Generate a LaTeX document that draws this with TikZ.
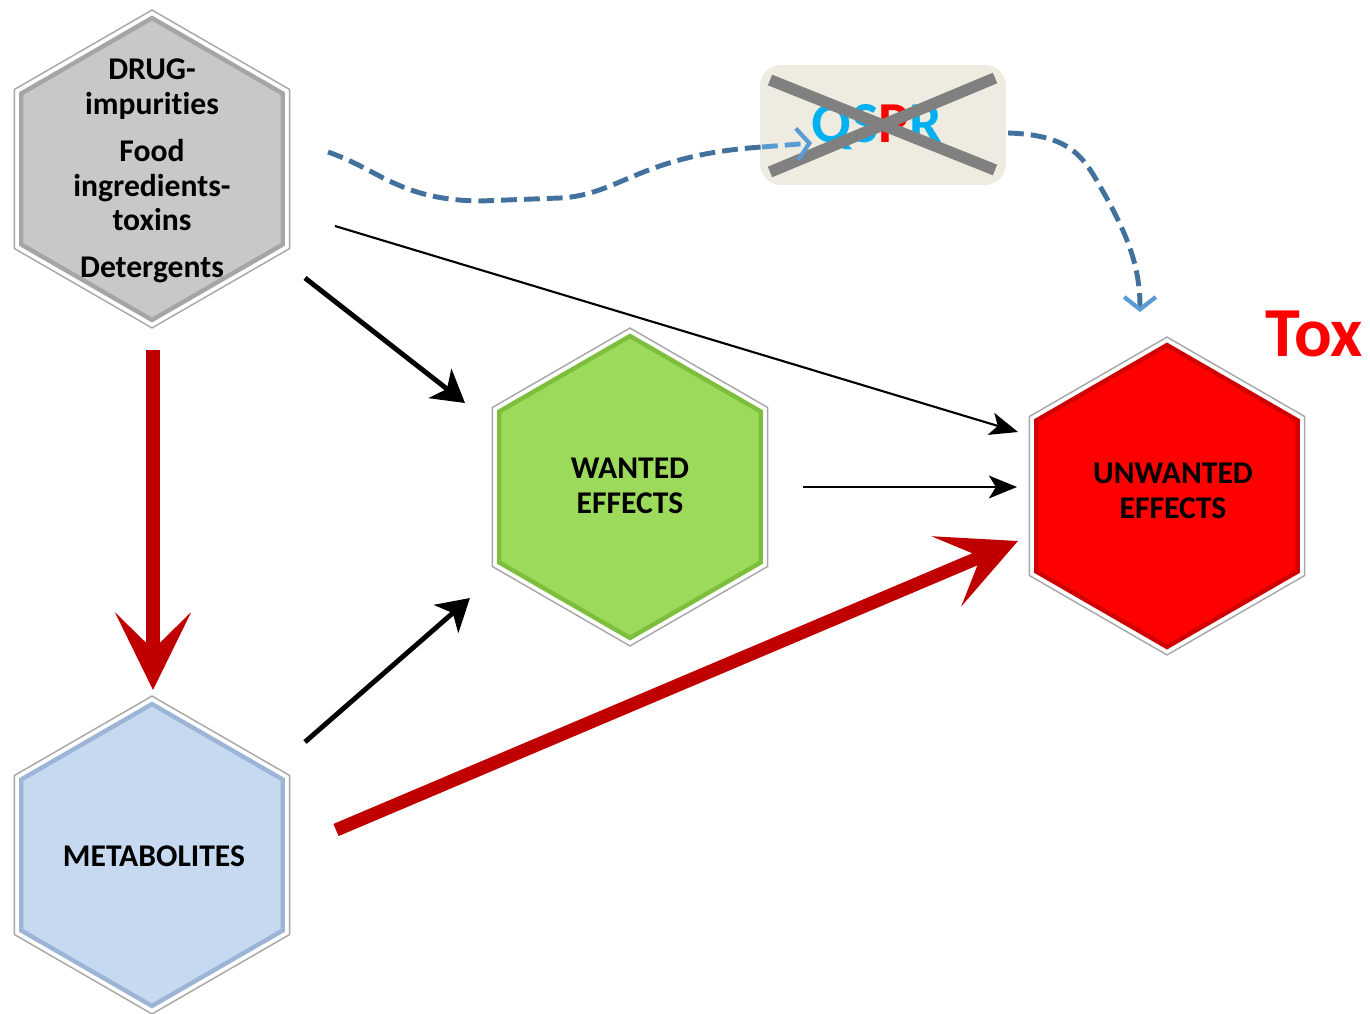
\documentclass[tikz,border=0pt]{standalone}
\usepackage{fontspec}
\setmainfont[Ligatures=NoCommon]{Carlito}
\usetikzlibrary{shapes.geometric,arrows.meta}

\definecolor{drugfill}{HTML}{C8C8C8}
\definecolor{drugedge}{HTML}{A5A5A5}
\definecolor{wantfill}{HTML}{9BDA5A}
\definecolor{wantedge}{HTML}{7DBE3C}
\definecolor{toxfill}{HTML}{FF0000}
\definecolor{toxedge}{HTML}{D00000}
\definecolor{metafill}{HTML}{C6D9F1}
\definecolor{metaedge}{HTML}{9CB5D6}
\definecolor{qsprbg}{HTML}{EEECE1}
\definecolor{qsprcyan}{HTML}{00B0F0}
\definecolor{dashblue}{HTML}{41719C}
\definecolor{tipblue}{HTML}{5B9BD5}
\definecolor{darkred}{HTML}{C00000}

\begin{document}
\begin{tikzpicture}[x=0.02cm, y=-0.02cm,
    hexframe/.style={regular polygon, regular polygon sides=6, shape border rotate=30,
        minimum size=6.36cm, inner sep=0pt, fill=white, draw=black!35, line width=0.8pt},
    hexface/.style={regular polygon, regular polygon sides=6, shape border rotate=30,
        minimum size=6.04cm, inner sep=0pt, line width=2.5pt},
    hextext/.style={font=\fontsize{18}{19.8}\selectfont\bfseries, align=center},
    thinarrow/.style={-{Stealth[length=16pt, width=13pt, inset=4pt]}, line width=1.2pt},
    thickarrow/.style={-{Stealth[length=18pt, width=21pt, inset=5pt]}, line width=2.8pt},
    redarrow/.style={draw=darkred, line width=7.5pt,
        -{Stealth[length=44pt, width=43pt, inset=21pt]}},
    qsprline/.style={draw=dashblue, dash pattern=on 9pt off 4pt, line width=2.8pt},
    crossline/.style={draw=gray, line width=6.5pt}]

    \useasboundingbox (0,0) rectangle (1370,1014);

    %% Hexagons

    % Drugs, food, detergents
    \node [hexframe] (drug) at (152,169) {};
    \node [hexface, fill=drugfill, draw=drugedge] (drugface) at (drug.center) {};
    \node [hextext] (drugtext) at (152,171) {DRUG-\\impurities\\[6.8pt]
        Food\\ingredients-\\toxins\\[6.8pt]Detergents};

    % Wanted effects
    \node [hexframe] (wanted) at (630,487) {};
    \node [hexface, fill=wantfill, draw=wantedge] (wantedface) at (wanted.center) {};
    \node [hextext] (wantedtext) at (630,486) {WANTED\\EFFECTS};

    % Unwanted effects
    \node [hexframe] (unwanted) at (1167,496) {};
    \node [hexface, fill=toxfill, draw=toxedge] (unwantedface) at (unwanted.center) {};
    \node [hextext] (unwantedtext) at (1173,491) {UNWANTED\\EFFECTS};

    % Metabolites
    \node [hexframe] (metab) at (152,855) {};
    \node [hexface, fill=metafill, draw=metaedge] (metabface) at (metab.center) {};
    \node [hextext] (metabtext) at (154,856) {METABOLITES};

    % Tox label
    \node [text=toxfill, font=\fontsize{40}{40}\selectfont\bfseries] (tox) at (1314,334) {Tox};

    %% QSPR box, crossed out
    \node [fill=qsprbg, rounded corners=12pt, minimum width=4.92cm, minimum height=2.4cm]
        (qspr) at (883,125) {};
    \node [font=\fontsize{33}{33}\selectfont\bfseries] (qsprtext) at (877,127)
        {\textcolor{qsprcyan}{QS}\textcolor{toxfill}{P}\textcolor{qsprcyan}{R}};
    \draw [crossline] (770,80) -- (995,170);
    \draw [crossline] (770,172) -- (995,78);

    %% Connector end points
    \coordinate (q1) at (328,152);
    \coordinate (q2) at (762,147);
    \coordinate (q3) at (812,143);
    \coordinate (q4) at (1008,133);
    \coordinate (q5) at (1140,312);
    \coordinate (d1) at (335,226);
    \coordinate (d2) at (1018,432);
    \coordinate (d3) at (305,278);
    \coordinate (d4) at (465,403);
    \coordinate (w1) at (803,487);
    \coordinate (w2) at (1017,487);
    \coordinate (m1) at (305,742);
    \coordinate (m2) at (470,598);
    \coordinate (r1) at (153,350);
    \coordinate (r2) at (153,690);
    \coordinate (r3) at (336,830);
    \coordinate (r4) at (1018,541);

    % Dashed QSPR route
    \draw [qsprline] (q1) .. controls (380,170) and (400,200) .. (480,201)
        -- (560,198) .. controls (620,195) and (640,155) .. (q2);
    \draw [draw=tipblue, dash pattern=on 9pt off 4pt, line width=2.8pt,
        -{Straight Barb[length=7pt, width=18pt, line width=2.4pt, color=tipblue]}] (q2) -- (q3);
    \draw [qsprline, -{Straight Barb[length=7pt, width=18pt, line width=2.4pt, color=tipblue]}]
        (q4) .. controls (1075,135) and (1085,160) .. (1105,195)
        .. controls (1130,240) and (1140,270) .. (q5);

    % Black arrows
    \draw [thinarrow] (d1) -- (d2);
    \draw [thickarrow] (d3) -- (d4);
    \draw [thinarrow] (w1) -- (w2);
    \draw [thickarrow] (m1) -- (m2);

    % Red arrows
    \draw [redarrow] (r1) -- (r2);
    \draw [redarrow] (r3) -- (r4);

\end{tikzpicture}
\end{document}
